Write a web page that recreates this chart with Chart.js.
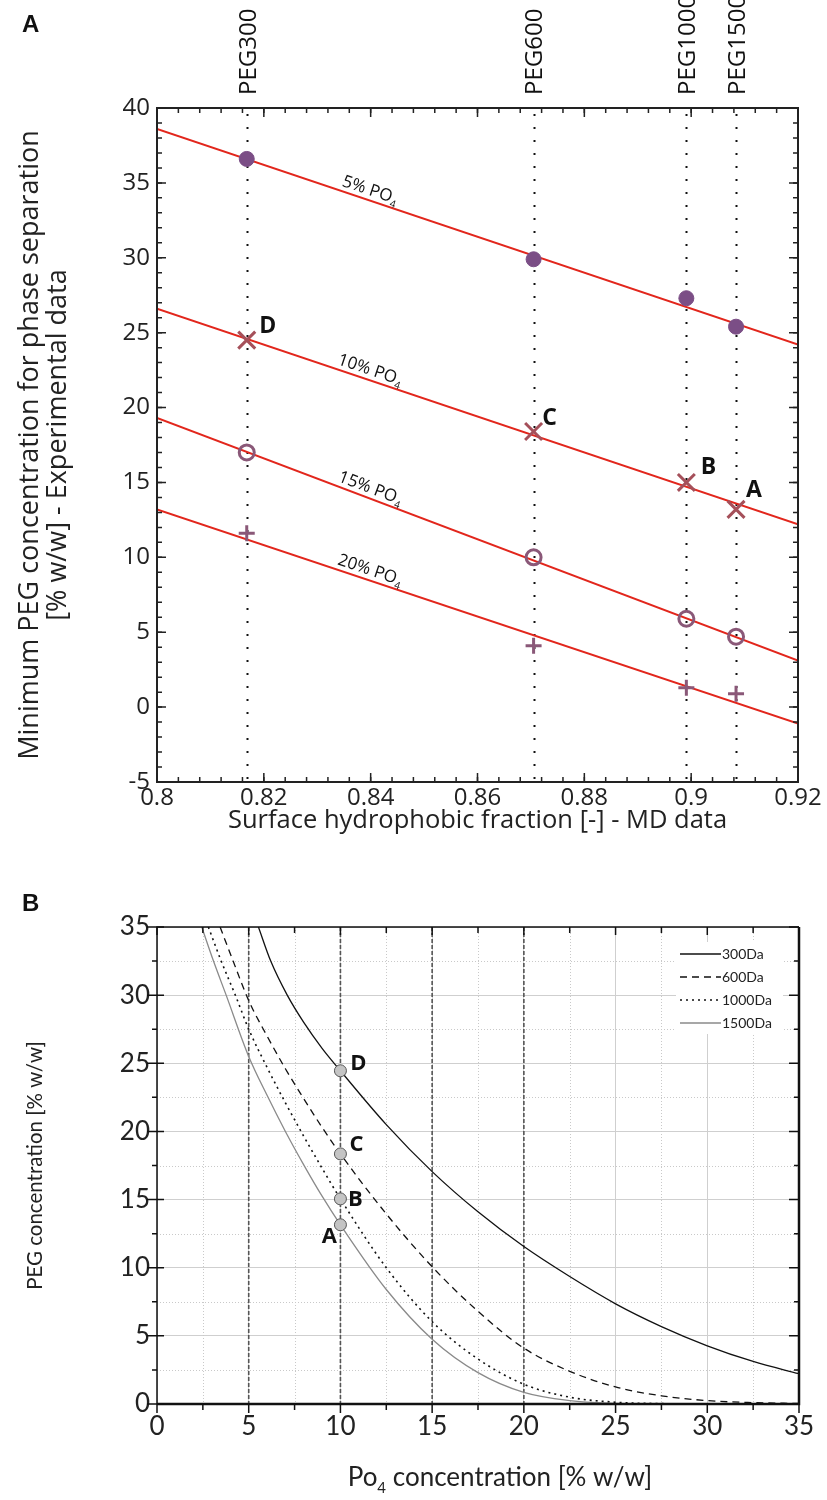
<!DOCTYPE html>
<html>
<head>
<meta charset="utf-8">
<script src="https://cdn.jsdelivr.net/npm/chart.js@4.4.1/dist/chart.umd.min.js"></script>
<style>
  body { margin: 0; background: #fff; width: 827px; height: 1500px; position: relative; overflow: hidden; }
  .panel { position: absolute; left: 0; width: 827px; }
  #wrapA { top: 0; height: 850px; }
  #wrapB { top: 880px; height: 620px; }
  .tag { position: absolute; font: bold 24px 'Liberation Sans Narrow', 'Liberation Sans', sans-serif; color: #111; }
</style>
</head>
<body>
<div class="panel" id="wrapA"><canvas id="chartA"></canvas></div>
<div class="panel" id="wrapB"><canvas id="chartB"></canvas></div>
<div class="tag" style="left:22px;top:10px">A</div>
<div class="tag" style="left:22px;top:889px">B</div>
<script>
// ---------- panel A : experimental data ----------
const pegNames = ['PEG300', 'PEG600', 'PEG1000', 'PEG1500'];
const hydroFrac = [0.8168, 0.8705, 0.8991, 0.9084];
const po4Levels = ['5%', '10%', '15%', '20%'];
const peg5 = [36.6, 29.9, 27.3, 25.4];
const peg10 = [24.5, 18.4, 15.0, 13.2];
const peg15 = [17.0, 10.0, 5.9, 4.7];
const peg20 = [11.6, 4.1, 1.3, 0.9];
const fitX = [0.8, 0.92];
const fit5 = [38.6, 24.2];
const fit10 = [26.6, 12.2];
const fit15 = [19.3, 3.1];
const fit20 = [13.2, -1.1];
const pointTags = ['D', 'C', 'B', 'A'];
const xTicksA = [0.8, 0.82, 0.84, 0.86, 0.88, 0.9, 0.92];
const yTicksA = [-5, 0, 5, 10, 15, 20, 25, 30, 35, 40];

// ---------- panel B : binodal curves ----------
const mwNames = ['300Da', '600Da', '1000Da', '1500Da'];
const po4_300 = [5.53, 6.2, 7.1, 8, 9, 10, 12.5, 15, 17.5, 20, 22.5, 25, 27.5, 30, 32.5, 35];
const peg_300 = [35, 32.5, 30, 28.0, 26.1, 24.45, 20.5, 17.05, 14.1, 11.55, 9.35, 7.35, 5.68, 4.27, 3.12, 2.22];
const po4_600 = [3.44, 4.15, 5, 6, 7, 8, 9, 10, 12.5, 15, 17.5, 20, 22.5, 25, 27.5, 30, 32.5, 35];
const peg_600 = [35, 32.5, 29.6, 27.0, 24.6, 22.4, 20.3, 18.35, 13.95, 10.07, 6.8, 4.1, 2.4, 1.25, 0.6, 0.25, 0.1, 0.04];
const po4_1000 = [2.8, 3.5, 4.3, 5, 6, 7, 8, 9, 10, 12.5, 15, 17.5, 20, 22.5, 25, 27.5, 30, 35];
const peg_1000 = [35, 32.5, 29.9, 27.5, 24.7, 22.1, 19.65, 17.3, 15.05, 10.0, 6.04, 3.3, 1.45, 0.5, 0.13, 0.03, 0, 0];
const po4_1500 = [2.44, 3.08, 3.77, 5, 6, 7, 8, 9, 10, 12.5, 15, 17.5, 20, 22.5, 25, 27.5, 35];
const peg_1500 = [35, 32.5, 30, 25.5, 22.65, 20.0, 17.55, 15.25, 13.15, 8.4, 4.75, 2.3, 0.85, 0.25, 0.05, 0, 0];
const guidePo4 = [5, 10, 15, 20];
const expPo4 = [10, 10, 10, 10];
const expPeg = [24.45, 18.35, 15.05, 13.15];
const expTags = ['D', 'C', 'B', 'A'];
const xTicksB = [0, 5, 10, 15, 20, 25, 30, 35];
const yTicksB = [0, 5, 10, 15, 20, 25, 30, 35];

const pts = (xs, ys) => xs.map((x, i) => ({ x: x, y: ys[i] }));

Chart.defaults.font.family = "'Open Sans', sans-serif";
Chart.defaults.color = '#222';

// draws tick marks along the plot frame (negative length = outside)
function tickMarks(chart, axisId, values, len, side) {
  const ctx = chart.ctx, a = chart.chartArea, s = chart.scales[axisId];
  ctx.beginPath();
  values.forEach(v => {
    const p = s.getPixelForValue(v);
    if (side === 'bottom') { ctx.moveTo(p, a.bottom); ctx.lineTo(p, a.bottom - len); }
    if (side === 'top') { ctx.moveTo(p, a.top); ctx.lineTo(p, a.top + len); }
    if (side === 'left') { ctx.moveTo(a.left, p); ctx.lineTo(a.left + len, p); }
    if (side === 'right') { ctx.moveTo(a.right, p); ctx.lineTo(a.right - len, p); }
  });
  ctx.stroke();
}

function range(from, to, step) {
  const out = [];
  for (let v = from; v <= to + 1e-9; v += step) out.push(+v.toFixed(4));
  return out;
}

// text with a small subscript part, centred on (0,0)
function subText(ctx, main, sub, rest, size, subSize, family) {
  ctx.font = size + 'px ' + family;
  const w1 = ctx.measureText(main).width;
  const w3 = ctx.measureText(rest).width;
  ctx.font = subSize + 'px ' + family;
  const w2 = ctx.measureText(sub).width;
  let x0 = -(w1 + w2 + w3) / 2;
  ctx.textAlign = 'left';
  ctx.textBaseline = 'alphabetic';
  ctx.font = size + 'px ' + family;
  ctx.fillText(main, x0, 0);
  ctx.font = subSize + 'px ' + family;
  ctx.fillText(sub, x0 + w1, size * 0.25);
  ctx.font = size + 'px ' + family;
  ctx.fillText(rest, x0 + w1 + w2, 0);
}

// ---------- chart A ----------
const panelA = {
  id: 'panelA',
  beforeDatasetsDraw(chart) {
    const { ctx, chartArea: a, scales: { x } } = chart;
    ctx.save();
    ctx.strokeStyle = '#111';
    ctx.lineWidth = 2;
    ctx.setLineDash([2, 11]);
    hydroFrac.forEach(v => {
      const px = Math.round(x.getPixelForValue(v)) + 0.5;
      ctx.beginPath();
      ctx.moveTo(px, a.bottom - 3);
      ctx.lineTo(px, a.top + 2);
      ctx.stroke();
    });
    ctx.restore();
  },
  afterDatasetsDraw(chart) {
    const { ctx, chartArea: a, scales: { x, y } } = chart;
    ctx.save();
    // frame
    ctx.strokeStyle = '#222';
    ctx.lineWidth = 2;
    ctx.strokeRect(a.left, a.top, a.right - a.left, a.bottom - a.top);
    ctx.lineWidth = 1.5;
    const xMinor = range(0.8, 0.92, 0.004), yMinor = range(-5, 40, 1);
    ['top', 'bottom'].forEach(side => {
      tickMarks(chart, 'x', xMinor, 5, side);
      tickMarks(chart, 'x', xTicksA, 9, side);
    });
    ['left', 'right'].forEach(side => {
      tickMarks(chart, 'y', yMinor, 5, side);
      tickMarks(chart, 'y', yTicksA, 9, side);
    });

    // labels on the fitted lines
    const fits = [fit5, fit10, fit15, fit20];
    fits.forEach((f, i) => {
      const x0 = x.getPixelForValue(fitX[0]), x1 = x.getPixelForValue(fitX[1]);
      const y0 = y.getPixelForValue(f[0]), y1 = y.getPixelForValue(f[1]);
      const ang = Math.atan2(y1 - y0, x1 - x0);
      const xc = x.getPixelForValue(0.8393);
      const yc = y0 + (xc - x0) * (y1 - y0) / (x1 - x0);
      ctx.save();
      ctx.translate(xc, yc);
      ctx.rotate(ang);
      ctx.translate(0, -5);
      ctx.fillStyle = '#111';
      subText(ctx, po4Levels[i] + ' PO', '4', '', 17, 10, "'Open Sans'");
      ctx.restore();
    });

    // point tags on the 10% series
    const off = [[21, -14], [16, -13], [22, -15], [18, -19]];
    ctx.fillStyle = '#111';
    ctx.font = "bold 23px 'Open Sans'";
    ctx.textAlign = 'center';
    ctx.textBaseline = 'middle';
    pointTags.forEach((t, i) => {
      ctx.fillText(t, x.getPixelForValue(hydroFrac[i]) + off[i][0], y.getPixelForValue(peg10[i]) + off[i][1]);
    });

    // PEG names above the frame
    ctx.font = "24px 'Open Sans'";
    ctx.textAlign = 'left';
    pegNames.forEach((n, i) => {
      ctx.save();
      ctx.translate(x.getPixelForValue(hydroFrac[i]) + 2, 95);
      ctx.rotate(-Math.PI / 2);
      ctx.fillText(n, 0, 0);
      ctx.restore();
    });
    ctx.restore();
  }
};

const lineStyleA = { showLine: true, borderColor: '#e2261c', borderWidth: 2, pointRadius: 0, order: 2 };

new Chart(document.getElementById('chartA'), {
  type: 'scatter',
  data: {
    datasets: [
      { label: '5%', data: pts(hydroFrac, peg5), pointStyle: 'circle', pointRadius: 7.5, backgroundColor: '#7b4e86', borderColor: '#7b4e86', order: 1 },
      { label: '10%', data: pts(hydroFrac, peg10), pointStyle: 'crossRot', pointRadius: 12, borderWidth: 3, borderColor: '#a5505a', order: 1 },
      { label: '15%', data: pts(hydroFrac, peg15), pointStyle: 'circle', pointRadius: 7.5, borderWidth: 3, borderColor: '#8a5878', backgroundColor: 'rgba(0,0,0,0)', order: 1 },
      { label: '20%', data: pts(hydroFrac, peg20), pointStyle: 'cross', pointRadius: 8, borderWidth: 3, borderColor: '#8a5878', order: 1 },
      Object.assign({ data: pts(fitX, fit5) }, lineStyleA),
      Object.assign({ data: pts(fitX, fit10) }, lineStyleA),
      Object.assign({ data: pts(fitX, fit15) }, lineStyleA),
      Object.assign({ data: pts(fitX, fit20) }, lineStyleA)
    ]
  },
  options: {
    responsive: true,
    maintainAspectRatio: false,
    animation: false,
    layout: { padding: { top: 108, right: 29, bottom: 0, left: 0 } },
    plugins: { legend: { display: false }, tooltip: { enabled: false } },
    scales: {
      x: {
        type: 'linear', min: 0.8, max: 0.92,
        afterBuildTicks: s => { s.ticks = xTicksA.map(v => ({ value: v })); },
        afterFit: s => { s.height = 68; },
        ticks: { callback: v => String(+v.toFixed(2)), font: { size: 24 }, padding: 2, maxRotation: 0, autoSkip: false },
        grid: { display: false, drawTicks: false },
        border: { display: false },
        title: { display: true, text: 'Surface hydrophobic fraction [-] - MD data', font: { size: 25.5 }, padding: { top: 0, bottom: 14 } }
      },
      y: {
        type: 'linear', min: -5, max: 40,
        afterBuildTicks: s => { s.ticks = yTicksA.map(v => ({ value: v })); },
        afterFit: s => { s.width = 157; },
        ticks: { font: { size: 24 }, padding: 7 },
        grid: { display: false, drawTicks: false },
        border: { display: false },
        title: { display: true, text: ['Minimum PEG concentration for phase separation', '[% w/w] - Experimental data'], font: { size: 27, lineHeight: 1.05 }, padding: { top: 16, bottom: 0 } }
      }
    }
  },
  plugins: [panelA]
});

// ---------- chart B ----------
const panelB = {
  id: 'panelB',
  beforeDatasetsDraw(chart) {
    const { ctx, chartArea: a, scales: { x, y } } = chart;
    ctx.save();
    // minor dotted grid
    ctx.strokeStyle = '#c9c9c9';
    ctx.lineWidth = 1;
    ctx.setLineDash([1, 2]);
    ctx.beginPath();
    range(2.5, 32.5, 5).forEach(v => {
      const px = Math.round(x.getPixelForValue(v)) + 0.5;
      ctx.moveTo(px, a.top); ctx.lineTo(px, a.bottom);
      const py = Math.round(y.getPixelForValue(v)) + 0.5;
      ctx.moveTo(a.left, py); ctx.lineTo(a.right, py);
    });
    ctx.stroke();
    // dark dashed guides
    ctx.strokeStyle = '#555';
    ctx.lineWidth = 1.6;
    ctx.setLineDash([4, 2]);
    guidePo4.forEach(v => {
      const px = x.getPixelForValue(v);
      ctx.beginPath();
      ctx.moveTo(px, a.top); ctx.lineTo(px, a.bottom);
      ctx.stroke();
    });
    ctx.restore();
  },
  afterDatasetsDraw(chart) {
    const { ctx, chartArea: a, scales: { x, y } } = chart;
    ctx.save();
    // legend box
    const lx = a.right - 123, ly = a.top + 15;
    ctx.fillStyle = '#fff';
    ctx.fillRect(lx, ly, 107, 92);
    chart.data.datasets.slice(0, 4).forEach((d, i) => {
      const ry = ly + 12 + i * 23;
      ctx.strokeStyle = d.borderColor;
      ctx.lineWidth = d.borderWidth;
      ctx.setLineDash(d.borderDash || []);
      ctx.beginPath();
      ctx.moveTo(lx + 4, ry); ctx.lineTo(lx + 45, ry);
      ctx.stroke();
      ctx.setLineDash([]);
      ctx.fillStyle = '#222';
      ctx.font = "14px 'Lato'";
      ctx.textBaseline = 'middle';
      ctx.textAlign = 'left';
      ctx.fillText(d.label, lx + 46, ry);
    });

    // frame
    ctx.strokeStyle = '#111';
    ctx.lineWidth = 1.5;
    ctx.beginPath();
    ctx.moveTo(a.left, a.bottom); ctx.lineTo(a.left, a.top); ctx.lineTo(a.right, a.top);
    ctx.stroke();
    ctx.lineWidth = 2.5;
    ctx.beginPath();
    ctx.moveTo(a.left, a.bottom); ctx.lineTo(a.right, a.bottom); ctx.lineTo(a.right, a.top);
    ctx.stroke();
    ctx.lineWidth = 1.5;
    const minor = range(2.5, 32.5, 5);
    tickMarks(chart, 'x', minor, 6, 'top');
    tickMarks(chart, 'x', xTicksB, 8, 'top');
    tickMarks(chart, 'y', minor, 5, 'right');
    tickMarks(chart, 'y', yTicksB, 10, 'right');
    tickMarks(chart, 'y', yTicksB, 7, 'left');
    tickMarks(chart, 'y', yTicksB, -10, 'left');
    tickMarks(chart, 'y', minor, -5, 'left');
    tickMarks(chart, 'x', xTicksB, -9, 'bottom');
    tickMarks(chart, 'x', minor, -6, 'bottom');

    // point tags
    const off = [[18, -7], [16, -9], [15, 1], [-11, 12]];
    ctx.fillStyle = '#111';
    ctx.font = "bold 22px 'Open Sans'";
    ctx.textAlign = 'center';
    ctx.textBaseline = 'middle';
    expTags.forEach((t, i) => {
      ctx.fillText(t, x.getPixelForValue(expPo4[i]) + off[i][0], y.getPixelForValue(expPeg[i]) + off[i][1]);
    });

    // x-axis title with subscript
    ctx.save();
    ctx.translate(500, a.bottom + 82);
    ctx.fillStyle = '#222';
    subText(ctx, 'Po', '4', ' concentration [% w/w]', 26, 15, "'Lato'");
    ctx.restore();
    ctx.restore();
  }
};

const curveB = { showLine: true, pointRadius: 0, borderWidth: 1.3, cubicInterpolationMode: 'monotone', order: 2 };

new Chart(document.getElementById('chartB'), {
  type: 'scatter',
  data: {
    datasets: [
      Object.assign({ label: mwNames[0], data: pts(po4_300, peg_300), borderColor: '#111' }, curveB),
      Object.assign({ label: mwNames[1], data: pts(po4_600, peg_600), borderColor: '#111', borderDash: [7, 5] }, curveB),
      Object.assign({ label: mwNames[2], data: pts(po4_1000, peg_1000), borderColor: '#111', borderDash: [2, 4] }, curveB, { borderWidth: 1.6 }),
      Object.assign({ label: mwNames[3], data: pts(po4_1500, peg_1500), borderColor: '#8a8a8a' }, curveB),
      { label: 'exp', data: pts(expPo4, expPeg), pointRadius: 6, pointStyle: 'circle', backgroundColor: '#c4c4c4', borderColor: '#555', borderWidth: 1, order: 1 }
    ]
  },
  options: {
    responsive: true,
    maintainAspectRatio: false,
    animation: false,
    layout: { padding: { top: 47, right: 28, bottom: 0, left: 0 } },
    plugins: { legend: { display: false }, tooltip: { enabled: false } },
    scales: {
      x: {
        type: 'linear', min: 0, max: 35,
        afterBuildTicks: s => { s.ticks = xTicksB.map(v => ({ value: v })); },
        afterFit: s => { s.height = 96; },
        ticks: { font: { family: "'Lato'", size: 26 }, padding: 7, maxRotation: 0, autoSkip: false },
        grid: { color: '#cfcfcf', lineWidth: 1, drawTicks: false },
        border: { display: false }
      },
      y: {
        type: 'linear', min: 0, max: 35,
        afterBuildTicks: s => { s.ticks = yTicksB.map(v => ({ value: v })); },
        afterFit: s => { s.width = 157; },
        ticks: { font: { family: "'Lato'", size: 26 }, padding: 7 },
        grid: { color: '#cfcfcf', lineWidth: 1, drawTicks: false },
        border: { display: false },
        title: { display: true, text: 'PEG concentration [% w/w]', font: { family: "'Lato'", size: 20.5 }, padding: { top: 23, bottom: 0 } }
      }
    }
  },
  plugins: [panelB]
});
</script>
</body>
</html>
